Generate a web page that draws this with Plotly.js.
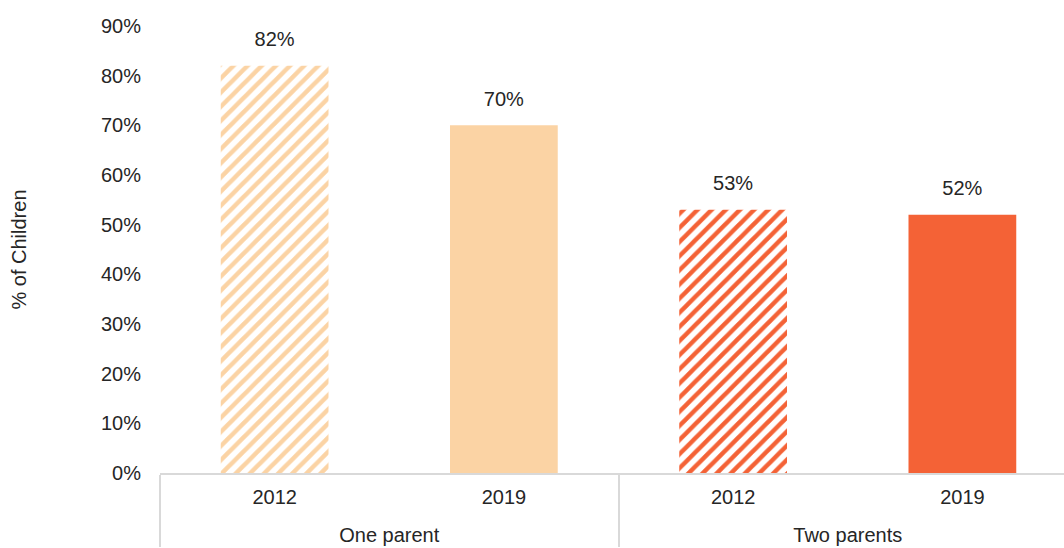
<!DOCTYPE html>
<html>
<head>
<meta charset="utf-8">
<script src="https://cdn.plot.ly/plotly-3.0.1.min.js"></script>
<style>
html,body{margin:0;padding:0;overflow:hidden;background:#fff;}
#chart{width:1080px;height:548px;}
</style>
</head>
<body>
<div id="chart"></div>
<script>
const groups = ["One parent", "One parent", "Two parents", "Two parents"];
const years = ["2012", "2019", "2012", "2019"];
const values = [0.82, 0.70, 0.53, 0.52];
const barColors = ["#FBD3A4", "#FBD3A4", "#F46236", "#F46236"];
const hatch = ["/", "", "/", ""];
const yTickVals = [0, 0.1, 0.2, 0.3, 0.4, 0.5, 0.6, 0.7, 0.8, 0.9];

const font = "Liberation Sans, Arial, sans-serif";
const textColor = "#262626";
const lbl = s => "<span style='font-size:20px'>" + s + "</span>";
const xGroups = groups.map(lbl);
const xYears = years.map(lbl);

const bars = {
  type: "bar",
  x: [xGroups, xYears],
  y: values,
  marker: {
    color: barColors,
    line: {width: 0},
    pattern: {
      shape: hatch,
      fgcolor: barColors,
      bgcolor: "#ffffff",
      fillmode: "replace",
      size: 10,
      solidity: 0.45
    }
  },
  hoverinfo: "none",
  showlegend: false
};

const labels = {
  type: "scatter",
  mode: "markers+text",
  x: [xGroups, xYears],
  y: values,
  text: values.map(v => Math.round(v * 100) + "%"),
  textposition: "top center",
  textfont: {family: font, size: 20, color: textColor},
  marker: {size: 22, opacity: 0},
  hoverinfo: "none",
  showlegend: false,
  cliponaxis: false
};

const layout = {
  width: 1080,
  height: 548,
  margin: {l: 160, r: 3, t: 26, b: 75},
  paper_bgcolor: "#ffffff",
  plot_bgcolor: "#ffffff",
  font: {family: font, size: 20, color: textColor},
  bargap: 0.53,
  xaxis: {
    type: "multicategory",
    showline: true,
    linecolor: "#D9D9D9",
    linewidth: 2,
    showgrid: false,
    zeroline: false,
    ticks: "",
    showdividers: true,
    dividercolor: "#D9D9D9",
    dividerwidth: 2,
    ticklabelstandoff: -14,
    tickfont: {family: font, size: 36, color: textColor}
  },
  yaxis: {
    range: [0, 0.9],
    tickvals: yTickVals,
    tickformat: ".0%",
    showgrid: false,
    zeroline: false,
    showline: false,
    ticks: "",
    ticklabelstandoff: 18,
    tickfont: {family: font, size: 20, color: textColor},
    title: {text: "% of Children", font: {family: font, size: 20, color: textColor}, standoff: 68}
  }
};

Plotly.newPlot("chart", [bars, labels], layout, {displayModeBar: false, staticPlot: true});
</script>
</body>
</html>
